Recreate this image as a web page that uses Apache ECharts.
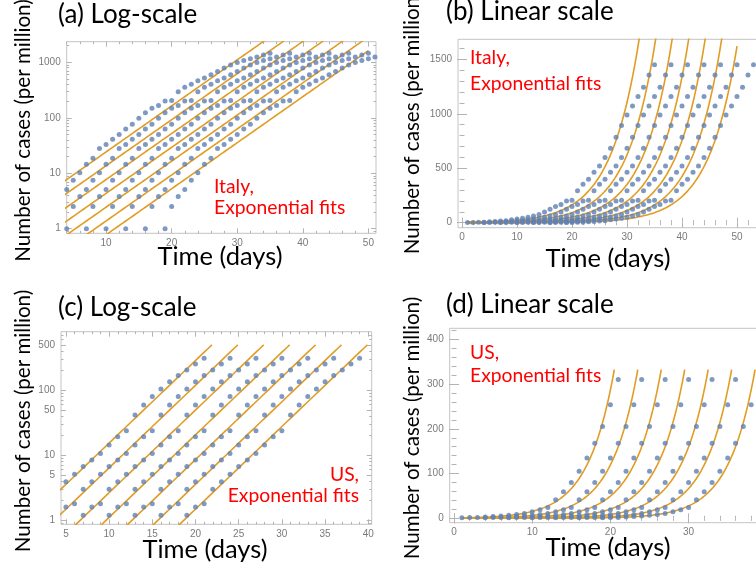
<!DOCTYPE html>
<html><head><meta charset="utf-8">
<script src="https://cdn.jsdelivr.net/npm/echarts@6/dist/echarts.min.js"></script>
<style>html,body{margin:0;padding:0;background:#fff}#c{width:756px;height:569px}</style>
</head><body><div id="c"></div>
<script>
// ---------- data ----------
// Italy: cumulative cases per million, day 1..35
const italyCases = [1, 2.5, 3.8, 5.1, 7.5, 10.2, 14.5, 18.6, 28, 33, 40.8, 50, 62.5, 76, 97.5, 123, 148, 167, 200, 205,
                    294, 354, 400, 464, 521, 598, 684, 785, 892, 990, 1072, 1158, 1244, 1357, 1450];
// US: cumulative cases per million, day 1..21
const usCases = [1.2, 1.6, 1.8, 3.0, 3.9, 5.1, 6.7, 8.5, 10.7, 14.4, 19.3, 23.9, 41.7, 59.4, 80, 105, 135, 168, 205, 254, 310];
// each curve is repeated, shifted by 3 days, 7 times
const shiftDays = 3;
const copies = 7;
// exponential fits: log10(y) = log10(refValue) + log10Rate * (t - refDay - shift*k)
const italyFit = { refDay: 32.2, refValue: 1684, log10Rate: 0.083, startDay: 1, endDay: 50 };
const usFit = { refDay: 21.9, refValue: 500, log10Rate: 0.127, startDay: 1 };
const usFitEndLog = 21.9;   // last day of the first fit line, log panel
const usFitEndLin = 20.5;   // last day of the first fit curve, linear panel
// tick labels (major) and minor tick marks
const ticksA_x = [10, 20, 30, 40, 50];
const ticksA_y = [1, 10, 100, 1000];
const ticksB_x = [0, 10, 20, 30, 40, 50, 60];
const ticksB_y = [0, 500, 1000, 1500];
const ticksC_x = [5, 10, 15, 20, 25, 30, 35, 40];
const ticksC_y = [1, 5, 10, 50, 100, 500];
const ticksD_x = [0, 10, 20, 30, 40];
const ticksD_y = [0, 100, 200, 300, 400];
const minorStepA_x = 2, minorStepB_x = 2, minorStepC_x = 1, minorStepD_x = 2;
const minorStepB_y = 100, minorStepD_y = 20;
const logMinorMantissas = [2, 3, 4, 5, 6, 7, 8, 9];
const titles = ['(a) Log-scale', '(b) Linear scale', '(c) Log-scale', '(d) Linear scale'];
const xTitle = 'Time (days)';
const yTitle = 'Number of cases (per million)';
const noteItaly = ['Italy,', 'Exponential fits'];
const noteUS = ['US,', 'Exponential fits'];

// ---------- build ----------
const BLUE = '#5e81b5', ORANGE = '#e19c24', RED = '#ff0000', FRAME = '#c4c4c4', TICK = '#b3b3b3';
function shiftedPoints(vals) {
  const pts = [];
  for (let k = 0; k < copies; k++) vals.forEach((v, i) => pts.push([i + 1 + shiftDays * k, v]));
  return pts;
}
function fitCurve(fit, k, start, end) {
  const pts = [];
  const n = Math.round((end - start) / 0.1);
  for (let j = 0; j <= n; j++) {
    const t = start + (end - start) * j / n;
    pts.push([t, fit.refValue * Math.pow(10, fit.log10Rate * (t - fit.refDay - shiftDays * k))]);
  }
  return pts;
}
function linMinor(min, max, step, major) {
  const out = [];
  for (let v = Math.ceil(min / step) * step; v <= max; v += step) {
    const r = Math.round(v * 1000) / 1000;
    if (major.indexOf(r) < 0) out.push(r);
  }
  return out;
}
function logMinor(min, max, major) {
  const out = [];
  for (let e = -1; e <= 4; e++) logMinorMantissas.forEach(m => {
    const v = m * Math.pow(10, e);
    if (v >= min && v <= max && major.indexOf(v) < 0) out.push(v);
  });
  return out;
}

const grids = [
  { left: 66.7, top: 41.7, width: 309.3, height: 191.6 },
  { left: 458, top: 39.3, width: 340, height: 188.4 },
  { left: 61, top: 331.7, width: 310.7, height: 192.6 },
  { left: 449.7, top: 328.3, width: 340, height: 194.4 }
].map(g => Object.assign(g, { show: true, borderColor: FRAME, borderWidth: 1, containLabel: false, outerBoundsMode: 'none' }));

// four axes per side pair: labelled major, minor, mirrored major, mirrored minor
function axisSet(gi, dim, type, min, max, major, minor) {
  const sides = dim === 'x' ? ['bottom', 'top'] : ['left', 'right'];
  const mk = (pos, vals, len, labelled) => ({
    gridIndex: gi, type: type, min: min, max: max, position: pos,
    logBase: 10,
    axisLine: { show: false },
    splitLine: { show: false },
    axisTick: { show: true, inside: true, length: len, lineStyle: { color: TICK, width: 1 }, customValues: vals },
    axisLabel: labelled ? { show: true, customValues: vals, color: '#7a7a7a', fontSize: 10, fontFamily: 'Liberation Sans',
      margin: dim === 'x' ? 5 : 6, formatter: v => String(Math.round(v * 1000) / 1000) } : { show: false }
  });
  return [mk(sides[0], major, 5, true), mk(sides[0], minor, 2.5, false), mk(sides[1], major, 5, false), mk(sides[1], minor, 2.5, false)];
}
const xRanges = [[4.0, 51.16], [-0.73, -0.73 + 340 / 5.5], [4.43, 40.4], [-0.55, -0.55 + 340 / 7.82]];
const yRanges = [[0.826, 2350], [-46, 1684], [0.868, 796], [-9.8, 424.6]];
const xAxes = [].concat(
  axisSet(0, 'x', 'value', xRanges[0][0], xRanges[0][1], ticksA_x, linMinor(xRanges[0][0], xRanges[0][1], minorStepA_x, ticksA_x)),
  axisSet(1, 'x', 'value', xRanges[1][0], xRanges[1][1], ticksB_x, linMinor(xRanges[1][0], xRanges[1][1], minorStepB_x, ticksB_x)),
  axisSet(2, 'x', 'value', xRanges[2][0], xRanges[2][1], ticksC_x, linMinor(xRanges[2][0], xRanges[2][1], minorStepC_x, ticksC_x)),
  axisSet(3, 'x', 'value', xRanges[3][0], xRanges[3][1], ticksD_x, linMinor(xRanges[3][0], xRanges[3][1], minorStepD_x, ticksD_x))
);
const yAxes = [].concat(
  axisSet(0, 'y', 'log', yRanges[0][0], yRanges[0][1], ticksA_y, logMinor(yRanges[0][0], yRanges[0][1], ticksA_y)),
  axisSet(1, 'y', 'value', yRanges[1][0], yRanges[1][1], ticksB_y, linMinor(yRanges[1][0], yRanges[1][1], minorStepB_y, ticksB_y)),
  axisSet(2, 'y', 'log', yRanges[2][0], yRanges[2][1], ticksC_y, logMinor(yRanges[2][0], yRanges[2][1], ticksC_y)),
  axisSet(3, 'y', 'value', yRanges[3][0], yRanges[3][1], ticksD_y, linMinor(yRanges[3][0], yRanges[3][1], minorStepD_y, ticksD_y))
);

const series = [];
function addPanel(gi, vals, fitFn) {
  for (let k = 0; k < copies; k++) {
    series.push({ type: 'line', xAxisIndex: gi * 4, yAxisIndex: gi * 4, data: fitFn(k), showSymbol: false,
      lineStyle: { color: ORANGE, width: 1.6 }, clip: true, silent: true, z: 2 });
  }
  series.push({ type: 'scatter', xAxisIndex: gi * 4, yAxisIndex: gi * 4, data: shiftedPoints(vals), symbolSize: 5,
    itemStyle: { color: BLUE }, clip: true, silent: true, z: 3 });
}
addPanel(0, italyCases, k => fitCurve(italyFit, k, italyFit.startDay, italyFit.endDay));
addPanel(1, italyCases, k => fitCurve(italyFit, k, italyFit.startDay, italyFit.endDay));
addPanel(2, usCases, k => fitCurve(usFit, k, usFit.startDay, usFitEndLog + shiftDays * k));
addPanel(3, usCases, k => fitCurve(usFit, k, usFit.startDay, usFitEndLin + shiftDays * k));

const BIG = 'Lato';
function txt(text, x, y, size, color, opts) {
  return Object.assign({ type: 'text', x: x, y: y, silent: true,
    style: Object.assign({ text: text, fontSize: size, fontFamily: BIG, fill: color, align: 'left', verticalAlign: 'middle' }, opts && opts.style) },
    opts && opts.el);
}
const XT = 25.5, YT = 20.6, RT = 19.3;
const rot = { style: { align: 'center' }, el: { rotation: Math.PI / 2 } };
const graphic = [
  txt(titles[0], 58, 14.5, 26, '#000'),
  txt(titles[1], 446, 11.7, 26, '#000'),
  txt(titles[2], 58, 308, 26, '#000'),
  txt(titles[3], 446, 305, 26, '#000'),
  txt(xTitle, 220, 257, XT, '#000', { style: { align: 'center' } }),
  txt(xTitle, 608, 259, XT, '#000', { style: { align: 'center' } }),
  txt(xTitle, 205, 550, XT, '#000', { style: { align: 'center' } }),
  txt(xTitle, 608, 548, XT, '#000', { style: { align: 'center' } }),
  txt(yTitle, 23, 130.5, YT, '#000', rot),
  txt(yTitle, 412, 123, YT, '#000', rot),
  txt(yTitle, 23, 421, YT, '#000', rot),
  txt(yTitle, 412, 428, YT, '#000', rot),
  txt(noteItaly[0], 214, 186.5, RT, RED),
  txt(noteItaly[1], 214, 207.5, RT, RED),
  txt(noteItaly[0], 470, 58, RT, RED),
  txt(noteItaly[1], 470, 84, RT, RED),
  txt(noteUS[0], 359, 475, RT, RED, { style: { align: 'right' } }),
  txt(noteUS[1], 359, 496, RT, RED, { style: { align: 'right' } }),
  txt(noteUS[0], 470, 353, RT, RED),
  txt(noteUS[1], 470, 376, RT, RED)
];

const chart = echarts.init(document.getElementById('c'), null, { renderer: 'canvas' });
chart.setOption({ animation: false, backgroundColor: '#fff', grid: grids, xAxis: xAxes, yAxis: yAxes, series: series, graphic: graphic });
</script></body></html>
